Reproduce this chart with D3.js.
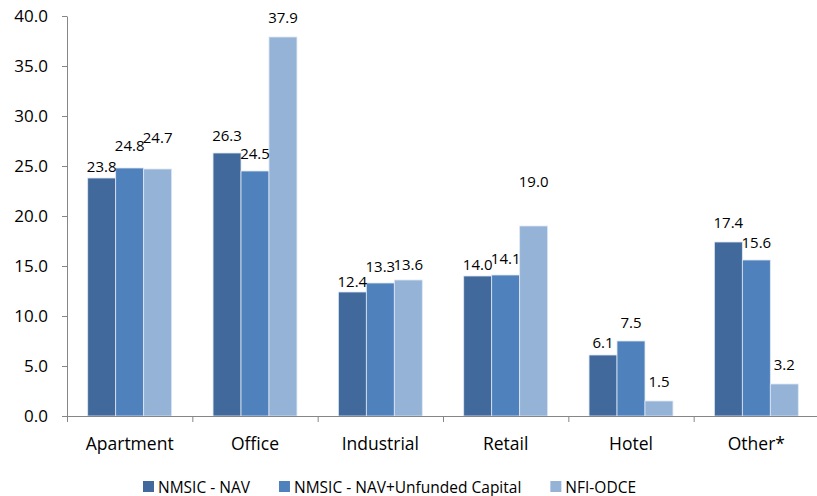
<!DOCTYPE html>
<html>
<head>
<meta charset="utf-8">
<script src="https://cdn.jsdelivr.net/npm/d3@7/dist/d3.min.js"></script>
<style>
  html, body { margin: 0; padding: 0; background: #ffffff; }
  svg { display: block; }
  text { font-family: "Open Sans", sans-serif; fill: #000; }
</style>
</head>
<body>
<svg id="chart" width="817" height="496"></svg>
<script>
// Property-type allocation (%)
const categories = ["Apartment", "Office", "Industrial", "Retail", "Hotel", "Other*"];
const seriesNames = ["NMSIC - NAV", "NMSIC - NAV+Unfunded Capital", "NFI-ODCE"];
const navValues = [23.8, 26.3, 12.4, 14.0, 6.1, 17.4];
const navUnfundedValues = [24.8, 24.5, 13.3, 14.1, 7.5, 15.6];
const odceValues = [24.7, 37.9, 13.6, 19.0, 1.5, 3.2];
const yTicks = [0, 5, 10, 15, 20, 25, 30, 35, 40];

// Distance (px) from each bar top to the centre of its value label
const labelGap = [
  [11, 17.5, 10.7, 11.7, 12, 19.7],
  [22, 17.7, 16, 16.3, 18.3, 17.5],
  [31, 19, 15.7, 44, 19, 19]
];

const colors = ["#41699b", "#4f81bd", "#95b3d7"];
const seriesValues = [navValues, navUnfundedValues, odceValues];

const svg = d3.select("#chart");
const axisColor = "#868686";

const x = d3.scaleBand().domain(categories).range([67, 819]).paddingInner(0).paddingOuter(0);
const xs = d3.scaleBand().domain(d3.range(3)).range([0, x.bandwidth()]).paddingInner(0).paddingOuter(0.74);
const y = d3.scaleLinear().domain([0, 40]).range([416, 16]);

// Y axis
const yAxis = svg.append("g")
  .attr("transform", "translate(67,0)")
  .call(d3.axisLeft(y).tickValues(yTicks).tickFormat(d3.format(".1f")).tickSize(5).tickPadding(14).tickSizeOuter(0));
yAxis.select(".domain").attr("stroke", axisColor);
yAxis.selectAll(".tick line").attr("stroke", axisColor);
yAxis.selectAll(".tick text")
  .style("font-family", "'Open Sans', sans-serif")
  .style("font-size", "17px")
  .attr("fill", "#000");

// Bars
seriesValues.forEach((vals, si) => {
  svg.append("g").selectAll("rect")
    .data(categories.map((c, ci) => ({ c, v: vals[ci] })))
    .join("rect")
    .attr("x", d => x(d.c) + xs(si))
    .attr("y", d => y(d.v))
    .attr("width", xs.bandwidth())
    .attr("height", d => y(0) - y(d.v))
    .attr("fill", colors[si])
    .attr("stroke", "#dfe8f3")
    .attr("stroke-width", 0.8);
});

// X axis: baseline, category boundary ticks, centred labels
const xAxis = svg.append("g")
  .attr("transform", "translate(0,416)")
  .call(d3.axisBottom(x).tickSize(0).tickPadding(0).tickSizeOuter(0));
xAxis.select(".domain").remove();
svg.append("line")
  .attr("x1", 62).attr("x2", 819).attr("y1", 416.5).attr("y2", 416.5)
  .attr("stroke", axisColor);
svg.append("g").selectAll("line")
  .data(d3.range(categories.length + 1))
  .join("line")
  .attr("x1", i => 67 + i * x.step() + 0.5)
  .attr("x2", i => 67 + i * x.step() + 0.5)
  .attr("y1", 416).attr("y2", 422)
  .attr("stroke", axisColor);
xAxis.selectAll(".tick text")
  .attr("y", 34)
  .attr("dy", 0)
  .style("font-family", "'Open Sans', sans-serif")
  .style("font-size", "17.5px")
  .attr("fill", "#000");

// Value labels
seriesValues.forEach((vals, si) => {
  svg.append("g").selectAll("text")
    .data(categories.map((c, ci) => ({ c, ci, v: vals[ci] })))
    .join("text")
    .attr("x", d => x(d.c) + xs(si) + xs.bandwidth() / 2)
    .attr("y", d => y(d.v) - labelGap[si][d.ci])
    .attr("dy", "0.36em")
    .attr("text-anchor", "middle")
    .style("font-size", "15px")
    .text(d => d3.format(".1f")(d.v));
});

// Legend
const legend = svg.append("g").attr("transform", "translate(143,0)");
let lx = 0;
seriesNames.forEach((name, i) => {
  const g = legend.append("g").attr("transform", `translate(${lx},0)`);
  g.append("rect").attr("x", 0).attr("y", 481).attr("width", 11).attr("height", 11).attr("fill", colors[i]);
  const t = g.append("text").attr("x", 15).attr("y", 492.5).style("font-size", "15.5px").text(name);
  lx += 15 + t.node().getComputedTextLength() + 29;
});
</script>
</body>
</html>
